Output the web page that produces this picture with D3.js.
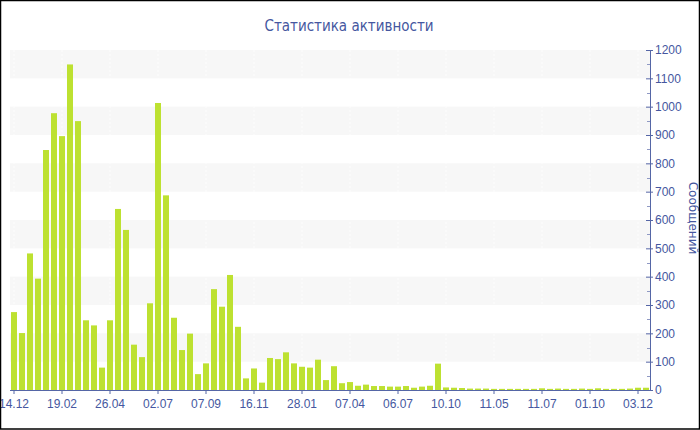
<!DOCTYPE html>
<html><head><meta charset="utf-8">
<script src="https://cdn.jsdelivr.net/npm/d3@7"></script>
<style>
html,body{margin:0;padding:0;background:#fff;}
svg{display:block;font-family:"DejaVu Sans",Verdana,sans-serif;}
</style></head>
<body>
<svg id="c" width="700" height="430"></svg>
<script>
const title = "Статистика активности";
const yTitle = "Сообщений";
const values = [275,201,482,393,847,977,896,1149,949,246,228,79,246,639,565,160,116,306,1013,687,
  255,141,199,56,94,356,294,406,223,41,76,26,113,109,133,94,82,79,107,35,
  84,24,28,15,19,14,14,12,12,14,8,12,15,93,9,8,7,5,5,5,
  4,4,4,4,4,4,6,4,5,4,4,5,4,6,4,4,4,5,8,8];
const categories = values.map((v,i)=>i);
const tickIndices = [0,6,12,18,24,30,36,42,48,54,60,66,72,78];
const tickLabels = ["14.12","19.02","26.04","02.07","07.09","16.11","28.01","07.04","06.07","10.10","11.05","11.07","01.10","03.12"];
const yMax = 1200;
const yTicks = [0,100,200,300,400,500,600,700,800,900,1000,1100,1200];

const svg = d3.select("#c");
const L=10, R=650, T=50, B=390;
const axisColor = "#5566a6", textColor = "#4557a0";

const x = d3.scaleBand().domain(categories).range([L,R]).paddingInner(0.25).paddingOuter(0.125);
const y = d3.scaleLinear().domain([0,yMax]).range([B,T]);

// bands
const bandStarts = yTicks.filter(v => v < yMax && (v/100)%2===1);
svg.append("g").selectAll("rect").data(bandStarts).join("rect")
  .attr("x",L).attr("width",R-L)
  .attr("y",d=>y(d+100)).attr("height",d=>y(d)-y(d+100))
  .attr("fill","#f7f7f7");

// faint vertical grid
svg.append("g").selectAll("line").data(tickIndices).join("line")
  .attr("x1",d=>x(d)+x.bandwidth()/2).attr("x2",d=>x(d)+x.bandwidth()/2)
  .attr("y1",T).attr("y2",B)
  .attr("stroke","#ffffff").attr("stroke-width",1).attr("stroke-dasharray","2,2").attr("opacity",0.9);

// bars
svg.append("g").selectAll("rect").data(values).join("rect")
  .attr("x",(d,i)=>x(categories[i])).attr("width",x.bandwidth())
  .attr("y",d=>y(d)).attr("height",d=>B-y(d))
  .attr("fill","#bde131");

// x axis
const xAxis = d3.axisBottom(x).tickValues(tickIndices)
  .tickFormat(d=>tickLabels[tickIndices.indexOf(d)]).tickSize(4).tickSizeOuter(0);
const gx = svg.append("g").attr("transform",`translate(0,${B})`).call(xAxis);
gx.select(".domain").attr("stroke",axisColor).attr("d",`M${L},0.5H${R}`);
gx.selectAll(".tick line").attr("stroke",axisColor);
gx.selectAll(".tick text").attr("fill",textColor).attr("font-size","12px").attr("dy","0.95em");

// y axis (right)
const gy = svg.append("g").attr("transform",`translate(${R},0)`);
gy.append("line").attr("x1",0.5).attr("x2",0.5).attr("y1",T).attr("y2",B).attr("stroke",axisColor);
const minor = d3.range(0,yMax,100).map(v=>v+50);
gy.selectAll(".mn").data(minor).join("line").attr("class","mn")
  .attr("x1",-3).attr("x2",0).attr("y1",d=>Math.round(y(d))+0.5).attr("y2",d=>Math.round(y(d))+0.5)
  .attr("stroke","#8f99c4");
const gyAxis = d3.axisRight(y).tickValues(yTicks).tickFormat(d3.format("d")).tickSize(3).tickSizeOuter(0).tickPadding(2);
const gyy = gy.append("g").call(gyAxis);
gyy.select(".domain").remove();
gyy.selectAll(".tick line").attr("x1",-4).attr("stroke",axisColor);
gyy.selectAll(".tick text").attr("fill",textColor).attr("font-size","12px");

// y title
svg.append("text").attr("transform",`translate(689,${(T+B)/2 - 2}) rotate(90)`)
  .attr("text-anchor","middle").attr("fill",textColor).attr("font-size","12px").text(yTitle);

// title
svg.append("text").attr("x",349).attr("y",31).attr("text-anchor","middle")
  .attr("fill",textColor).attr("font-size","15px")
  .style("font-family",'"DejaVu Sans Condensed","DejaVu Sans",sans-serif').text(title);

// frame
svg.append("rect").attr("x",0.5).attr("y",0.5).attr("width",699).attr("height",428.5)
  .attr("fill","none").attr("stroke","#000").attr("stroke-width",1.5);
</script>
</body></html>
